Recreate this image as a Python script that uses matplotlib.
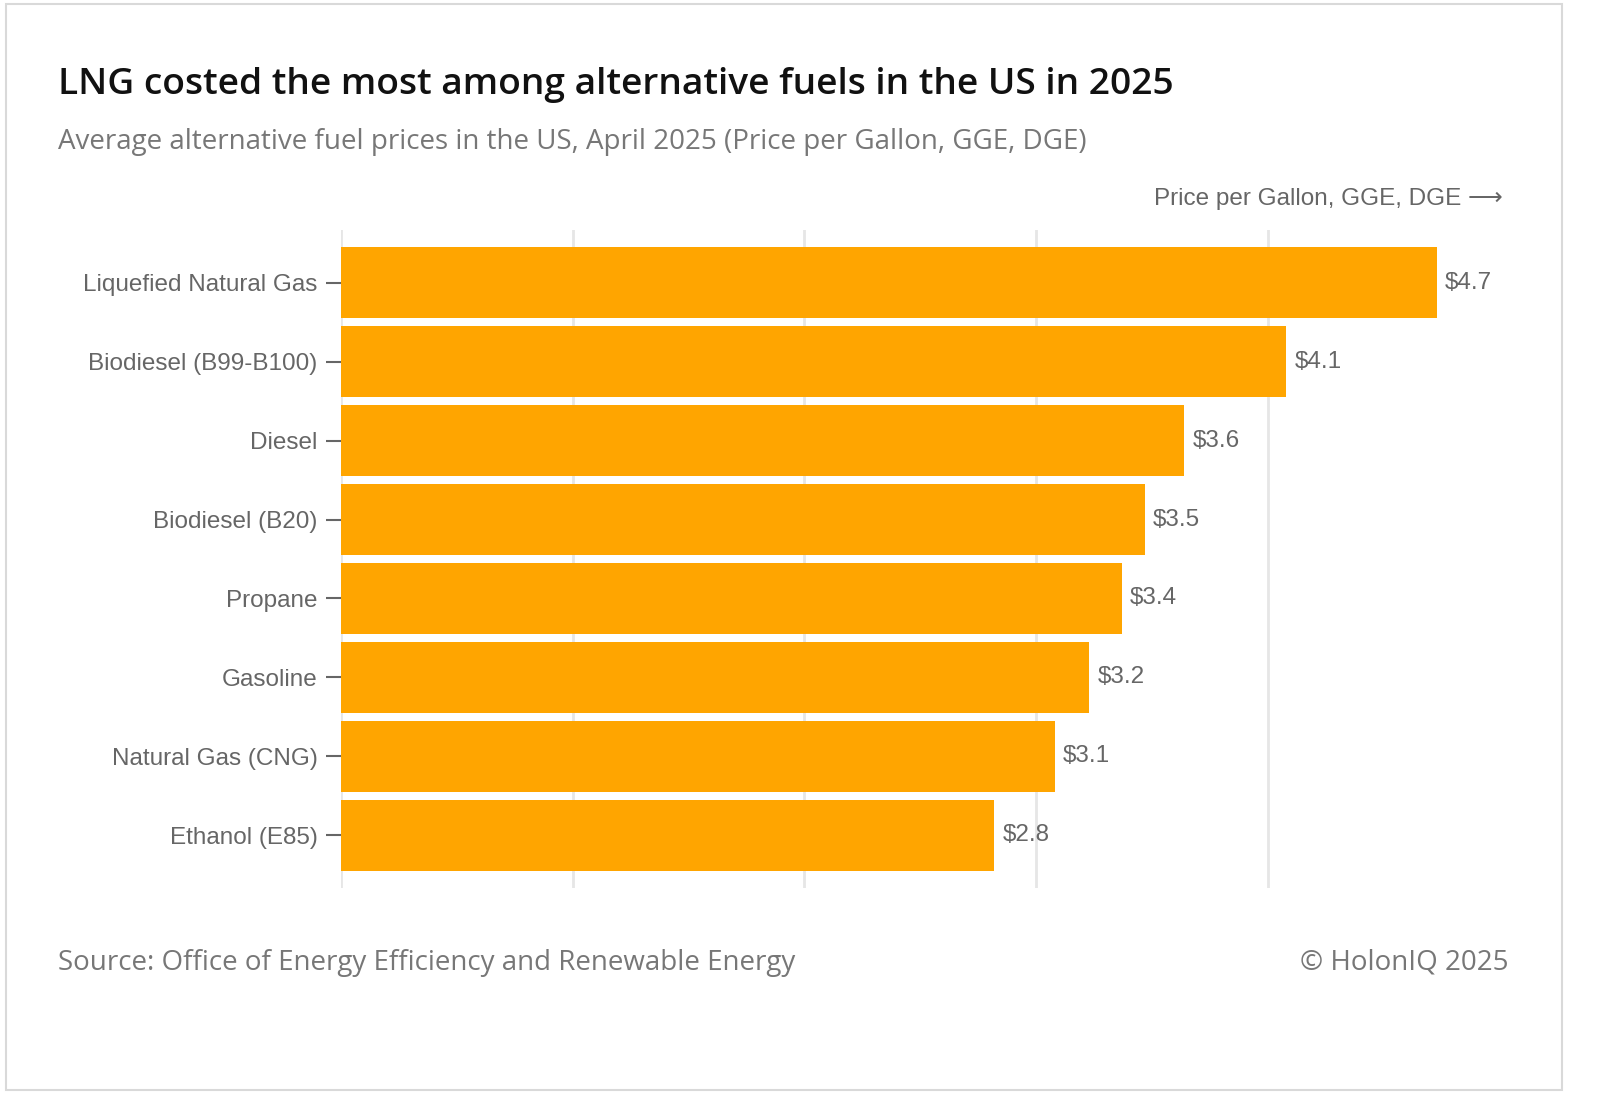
import matplotlib.pyplot as plt
import matplotlib.patches as mpatches

# données
fuels = ['Liquefied Natural Gas', 'Biodiesel (B99-B100)', 'Diesel', 'Biodiesel (B20)',
         'Propane', 'Gasoline', 'Natural Gas (CNG)', 'Ethanol (E85)']
prices = [4.73, 4.08, 3.64, 3.47, 3.37, 3.23, 3.08, 2.82]
grid_ticks = [0, 1, 2, 3, 4]

title_font = ['Open Sans', 'DejaVu Sans']
label_font = ['Liberation Sans', 'DejaVu Sans']

fig = plt.figure(figsize=(16, 11.16), dpi=100)
fig.patches.append(mpatches.Rectangle((6 / 1600, 1 - 1090 / 1116), 1556 / 1600, 1086 / 1116,
                                      transform=fig.transFigure, fill=False,
                                      edgecolor='#d9d9d9', linewidth=1.5))

ax = fig.add_axes([341 / 1600, 228 / 1116, 1162 / 1600, 658 / 1116])

y = list(range(len(fuels)))
ax.barh(y, prices, height=0.9, color='#FFA500', zorder=2)

for yi, p in zip(y, prices):
    ax.text(p + 0.035, yi, f'${p:.1f}', va='center', ha='left',
            fontsize=17.5, color='#666666', family=label_font)

ax.set_xlim(0, 5.015)
ax.set_ylim(len(fuels) - 1 + 0.67, -0.67)
ax.set_xticks(grid_ticks)
ax.set_xticklabels([])
ax.tick_params(axis='x', length=0)
ax.set_yticks(y)
ax.set_yticklabels(fuels, fontsize=17.5, color='#666666', family=label_font)
ax.tick_params(axis='y', length=11, width=1.5, color='#666666', pad=6)
ax.grid(axis='x', color='#e6e6e6', linewidth=2, zorder=0)
for s in ax.spines.values():
    s.set_visible(False)

fig.text(58 / 1600, 1 - 85 / 1116, 'LNG costed the most among alternative fuels in the US in 2025',
         fontsize=26.7, fontweight='semibold', color='#111111', va='center', ha='left',
         family=title_font)
fig.text(58 / 1600, 1 - 142 / 1116, 'Average alternative fuel prices in the US, April 2025 (Price per Gallon, GGE, DGE)',
         fontsize=20, color='#777777', va='center', ha='left', family=title_font)
fig.text(1503 / 1600, 1 - 199 / 1116, 'Price per Gallon, GGE, DGE \u27f6',
         fontsize=17.5, color='#666666', va='center', ha='right',
         family=['Liberation Sans', 'DejaVu Sans'])
fig.text(58 / 1600, 1 - 963 / 1116, 'Source: Office of Energy Efficiency and Renewable Energy',
         fontsize=20, color='#777777', va='center', ha='left', family=title_font)
fig.text(1509 / 1600, 1 - 963 / 1116, '\u00a9 HolonIQ 2025',
         fontsize=20, color='#777777', va='center', ha='right', family=title_font)

plt.savefig('out.png', dpi=100)
plt.close()
